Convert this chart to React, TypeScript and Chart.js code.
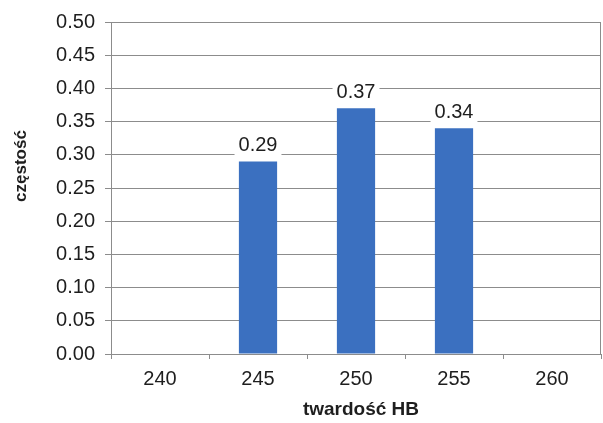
import React, { useEffect, useRef } from "react";
import { Chart, registerables } from "chart.js";

Chart.register(...registerables);

const categories = ["240", "245", "250", "255", "260"];
const values = [0, 0.29, 0.37, 0.34, 0];
const dataLabels = ["", "0.29", "0.37", "0.34", ""];
const yTitle = "częstość";
const xTitle = "twardość HB";

const FONT = "'Liberation Sans', Arial, sans-serif";
const GRID = "#8c8c8c";
const TEXT = "#1e1e1e";

const labelPlugin = {
  id: "barLabels",
  afterDatasetsDraw(chart: any) {
    const ctx = chart.ctx;
    const meta = chart.getDatasetMeta(0);
    ctx.save();
    ctx.font = `20px ${FONT}`;
    ctx.textAlign = "center";
    ctx.textBaseline = "middle";
    meta.data.forEach((bar: any, i: number) => {
      const txt = dataLabels[i];
      if (!txt) return;
      const x = bar.x;
      const y = bar.y - 17;
      const w = ctx.measureText(txt).width + 8;
      ctx.fillStyle = "#ffffff";
      ctx.fillRect(x - w / 2, y - 12, w, 24);
      ctx.fillStyle = TEXT;
      ctx.fillText(txt, x, y + 1);
    });
    ctx.restore();
  },
};

const decoPlugin = {
  id: "deco",
  beforeDatasetsDraw(chart: any) {
    const { ctx, chartArea } = chart;
    ctx.save();
    ctx.strokeStyle = GRID;
    ctx.lineWidth = 1;
    ctx.beginPath();
    ctx.moveTo(Math.round(chartArea.right) - 0.5, chartArea.top);
    ctx.lineTo(Math.round(chartArea.right) - 0.5, chartArea.bottom);
    ctx.stroke();
    ctx.restore();
  },
  afterDraw(chart: any) {
    const { ctx, chartArea } = chart;
    ctx.save();
    ctx.fillStyle = TEXT;
    ctx.textAlign = "center";
    ctx.textBaseline = "middle";
    ctx.font = `bold 19px ${FONT}`;
    ctx.fillText(xTitle, (chartArea.left + chartArea.right) / 2 + 5, 410);
    ctx.font = `bold 17px ${FONT}`;
    ctx.translate(21, (chartArea.top + chartArea.bottom) / 2 - 22);
    ctx.rotate(-Math.PI / 2);
    ctx.fillText(yTitle, 0, 0);
    ctx.restore();
  },
};

export default function App() {
  const ref = useRef<HTMLCanvasElement>(null);
  useEffect(() => {
    document.body.style.margin = "0";
    const chart = new Chart(ref.current!, {
      type: "bar",
      data: {
        labels: categories,
        datasets: [
          {
            data: values,
            backgroundColor: "#3b70c0",
            categoryPercentage: 1,
            barPercentage: 0.39,
          },
        ],
      },
      options: {
        animation: false,
        responsive: false,
        layout: { padding: { top: 21, right: 2, left: 0, bottom: 0 } },
        plugins: { legend: { display: false }, tooltip: { enabled: false } },
        scales: {
          x: {
            grid: {
              offset: true,
              drawOnChartArea: false,
              color: GRID,
              tickLength: 5,
            },
            border: { color: GRID },
            ticks: { color: TEXT, font: { family: FONT, size: 20 }, padding: 8 },
            afterFit(scale: any) {
              scale.height = 69;
            },
          },
          y: {
            min: 0,
            max: 0.5,
            grid: { color: GRID, tickLength: 6 },
            border: { color: GRID },
            ticks: {
              stepSize: 0.05,
              color: TEXT,
              font: { family: FONT, size: 20 },
              padding: 10,
              callback: (v: any) => Number(v).toFixed(2),
            },
            afterFit(scale: any) {
              scale.width = 111;
            },
          },
        },
      },
      plugins: [labelPlugin, decoPlugin],
    });
    return () => chart.destroy();
  }, []);
  return (
    <div style={{ position: "absolute", left: 0, top: 0, width: 603, height: 423, background: "#ffffff" }}>
      <canvas ref={ref} width={603} height={423} />
    </div>
  );
}
